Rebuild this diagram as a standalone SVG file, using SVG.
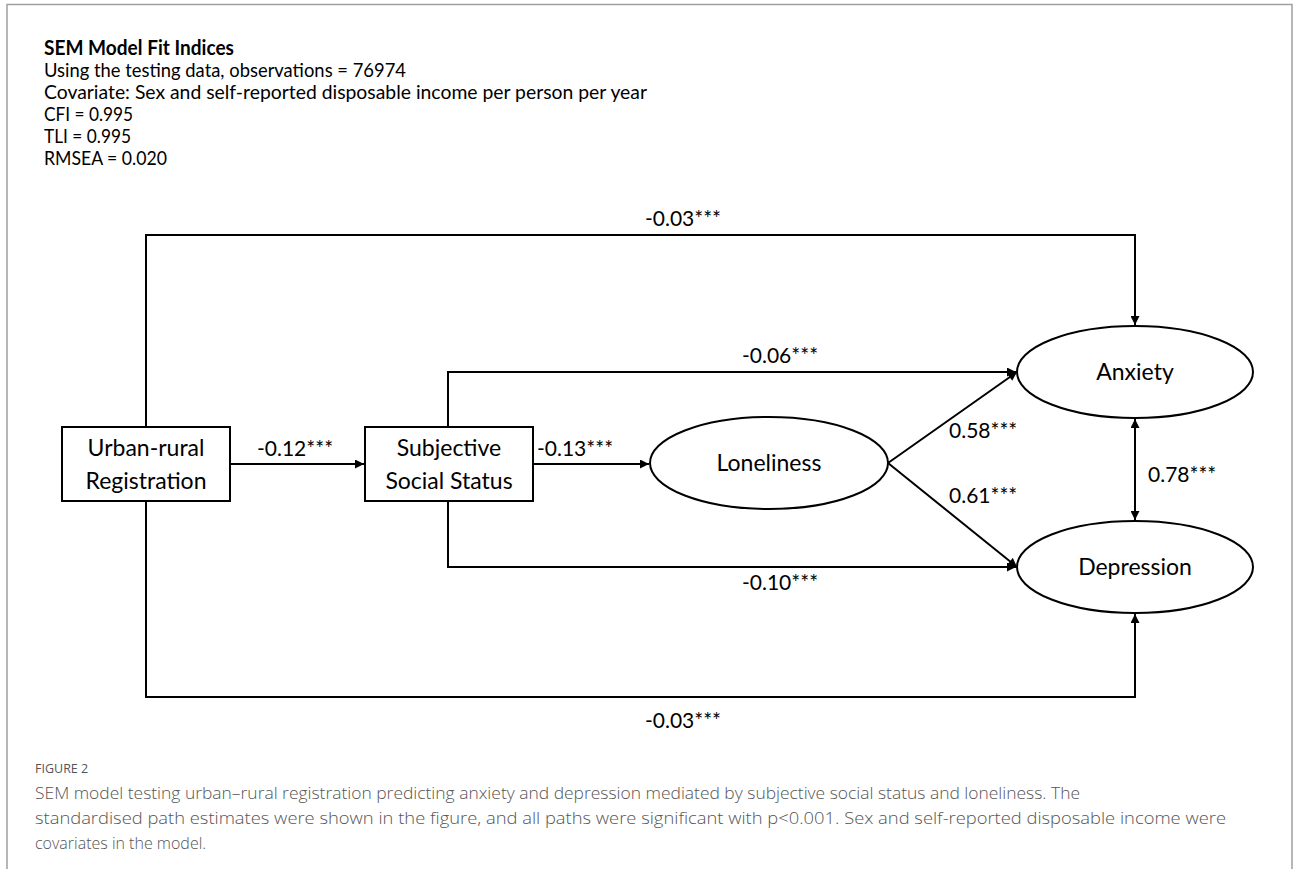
<svg xmlns="http://www.w3.org/2000/svg" width="1293" height="869" viewBox="0 0 1293 869">
  <defs>
    <marker id="arr" viewBox="0 0 10 10" refX="10" refY="5" markerWidth="10" markerHeight="9" markerUnits="userSpaceOnUse" orient="auto-start-reverse">
      <path d="M0,0 L10,5 L0,10 z" fill="#000"/>
    </marker>
    <style>
      .frame { stroke: #a0a0a0; stroke-width: 1.5; fill: none; }
      .hdr { font-family: Lato, "Open Sans", sans-serif; font-size: 20px; fill: #000; }
      .hdrb { font-family: Lato, "Open Sans", sans-serif; font-size: 20px; font-weight: bold; fill: #000; }
      .node { fill: #fff; stroke: #000; stroke-width: 2; }
      .nlab { font-family: Lato, "Open Sans", sans-serif; font-size: 23px; fill: #000; text-anchor: middle; }
      .elab { font-family: Lato, "Open Sans", sans-serif; font-size: 21px; fill: #000; }
      .conn { stroke: #000; stroke-width: 2; fill: none; }
      .cap { font-family: "Open Sans", "Liberation Sans", sans-serif; font-size: 16px; font-weight: 300; fill: #555; }
      .fig { font-family: "Open Sans", "Liberation Sans", sans-serif; font-size: 12.5px; fill: #555; }
    </style>
  </defs>
  <rect width="1293" height="869" fill="#fff"/>
  <path class="frame" d="M7,869 V4.5 H1292 V869"/>

  <g id="header">
    <text class="hdrb" x="44" y="55" textLength="190" lengthAdjust="spacingAndGlyphs">SEM Model Fit Indices</text>
    <text class="hdr" x="44" y="77" textLength="362" lengthAdjust="spacingAndGlyphs">Using the testing data, observations = 76974</text>
    <text class="hdr" x="44" y="99" textLength="603" lengthAdjust="spacingAndGlyphs">Covariate: Sex and self-reported disposable income per person per year</text>
    <text class="hdr" x="44" y="121" textLength="89" lengthAdjust="spacingAndGlyphs">CFI = 0.995</text>
    <text class="hdr" x="44" y="143" textLength="87" lengthAdjust="spacingAndGlyphs">TLI = 0.995</text>
    <text class="hdr" x="44" y="165" textLength="123" lengthAdjust="spacingAndGlyphs">RMSEA = 0.020</text>
  </g>

  <g id="connectors">
    <path class="conn" d="M146,427 V235 H1135 V325" marker-end="url(#arr)"/>
    <path class="conn" d="M146,501 V697 H1135 V614" marker-end="url(#arr)"/>
    <path class="conn" d="M230,464 H364" marker-end="url(#arr)"/>
    <path class="conn" d="M533,464 H649" marker-end="url(#arr)"/>
    <path class="conn" d="M448,427 V372 H1016" marker-end="url(#arr)"/>
    <path class="conn" d="M448,501 V567 H1016" marker-end="url(#arr)"/>
    <path class="conn" d="M888,463 L1017,372" marker-end="url(#arr)"/>
    <path class="conn" d="M888,463 L1017,567" marker-end="url(#arr)"/>
    <path class="conn" d="M1135,419 V520" marker-start="url(#arr)" marker-end="url(#arr)"/>
    <text class="elab" x="683" y="226" text-anchor="middle">-0.03***</text>
    <text class="elab" x="683" y="728" text-anchor="middle">-0.03***</text>
    <text class="elab" x="257" y="456">-0.12***</text>
    <text class="elab" x="537" y="456">-0.13***</text>
    <text class="elab" x="742" y="363">-0.06***</text>
    <text class="elab" x="742" y="590">-0.10***</text>
    <text class="elab" x="949" y="438">0.58***</text>
    <text class="elab" x="949" y="503">0.61***</text>
    <text class="elab" x="1148" y="482">0.78***</text>
  </g>

  <g id="urban-rural">
    <rect class="node" x="62" y="427" width="168" height="74"/>
    <text class="nlab" x="146" y="456">Urban-rural</text>
    <text class="nlab" x="146" y="489">Registration</text>
  </g>
  <g id="subjective-social-status">
    <rect class="node" x="365" y="427" width="168" height="74"/>
    <text class="nlab" x="449" y="456">Subjective</text>
    <text class="nlab" x="449" y="489">Social Status</text>
  </g>
  <g id="loneliness">
    <ellipse class="node" cx="769" cy="463" rx="119" ry="46"/>
    <text class="nlab" x="769" y="471">Loneliness</text>
  </g>
  <g id="anxiety">
    <ellipse class="node" cx="1135" cy="372" rx="118" ry="46"/>
    <text class="nlab" x="1135" y="380">Anxiety</text>
  </g>
  <g id="depression">
    <ellipse class="node" cx="1135" cy="567" rx="118" ry="46"/>
    <text class="nlab" x="1135" y="575">Depression</text>
  </g>

  <g id="caption">
    <text class="fig" x="35" y="773">FIGURE 2</text>
    <text class="cap" x="35" y="799" textLength="1045" lengthAdjust="spacingAndGlyphs">SEM model testing urban–rural registration predicting anxiety and depression mediated by subjective social status and loneliness. The</text>
    <text class="cap" x="35" y="824" textLength="1191" lengthAdjust="spacingAndGlyphs">standardised path estimates were shown in the figure, and all paths were significant with p&lt;0.001. Sex and self-reported disposable income were</text>
    <text class="cap" x="35" y="849">covariates in the model.</text>
  </g>
</svg>
